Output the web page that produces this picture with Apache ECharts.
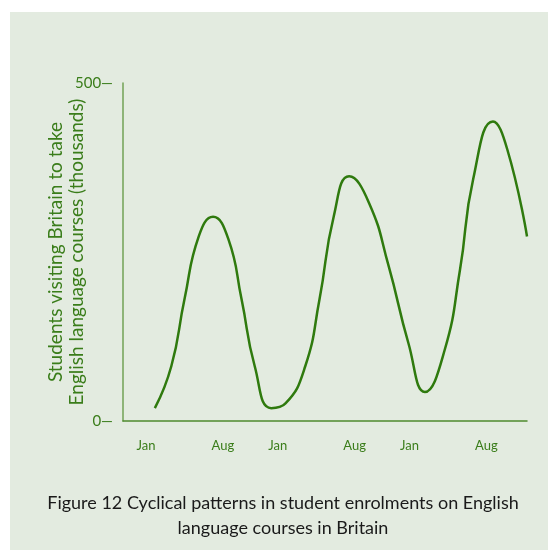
<!DOCTYPE html>
<html>
<head>
<meta charset="utf-8">
<script src="https://cdn.jsdelivr.net/npm/echarts@6/dist/echarts.min.js"></script>
<style>
  html, body { margin: 0; padding: 0; background: #ffffff; }
  #chart { width: 548px; height: 550px; }
</style>
</head>
<body>
<div id="chart"></div>
<script>
// months counted from the first January (0 = Jan, 7 = Aug, 12 = Jan ...)
var months = [0.8, 2.3, 3.5, 4.8, 6.1, 7.5, 8.7, 9.9, 11.4,
    12.7, 14.5, 15.8, 17.1, 18.5, 20.3, 22.1, 23.9, 25.4,
    27.2, 28.6, 29.8, 31.6, 32.9, 34.7];
// students, thousands
var students = [19, 81, 180, 273, 302, 269, 180, 81, 19,
    26, 81, 180, 303, 362, 323, 229, 115, 43,
    105, 224, 358, 443, 402, 273];
var tickMonths = [0, 7, 12, 19, 24, 31];
var tickNames = ["Jan", "Aug", "Jan", "Aug", "Jan", "Aug"];
var yTicks = [0, 500];

var green = "#3a7d1a";
var chart = echarts.init(document.getElementById("chart"));

var points = months.map(function (m, i) { return [m, students[i]]; });

var option = {
    backgroundColor: "transparent",
    textStyle: { fontFamily: "Lato" },
    title: {
        text: "Figure 12 Cyclical patterns in student enrolments on English\nlanguage courses in Britain",
        left: 278,
        top: 486,
        textAlign: "center",
        textStyle: {
            color: "#1a1a1a",
            fontSize: 18,
            fontWeight: "normal",
            fontFamily: "Lato",
            lineHeight: 25,
            align: "center"
        }
    },
    graphic: [{
        type: "rect",
        shape: { x: 10, y: 12, width: 538, height: 538 },
        style: { fill: "#e3ebe0" },
        z: -10
    }],
    grid: { left: 123, right: 21, top: 83, bottom: 129 },
    xAxis: {
        type: "value",
        min: -2.1,
        max: 34.7,
        axisLine: { onZero: false, lineStyle: { color: "#4f8a2e", width: 1.5 } },
        axisTick: { show: false },
        splitLine: { show: false },
        axisLabel: {
            customValues: tickMonths,
            formatter: function (v) { return tickNames[tickMonths.indexOf(v)]; },
            color: green,
            fontSize: 13,
            margin: 18
        }
    },
    yAxis: {
        type: "value",
        min: 0,
        max: 500,
        name: "Students visiting Britain to take\nEnglish language courses (thousands)",
        nameLocation: "middle",
        nameGap: 36,
        nameMoveOverlap: false,
        nameTextStyle: { color: green, fontSize: 19, lineHeight: 21 },
        axisLine: { show: true, onZero: false, lineStyle: { color: "#72a256", width: 1.5 } },
        axisTick: { show: false },
        splitLine: { show: false },
        axisLabel: {
            customValues: yTicks,
            formatter: function (v) { return v + "\u2014"; },
            color: green,
            fontSize: 15,
            margin: 10
        }
    },
    series: [{
        type: "line",
        data: points,
        smooth: 0.5,
        symbol: "none",
        lineStyle: { color: "#2f7a0e", width: 2.5 }
    }]
};
chart.setOption(option);
</script>
</body>
</html>
